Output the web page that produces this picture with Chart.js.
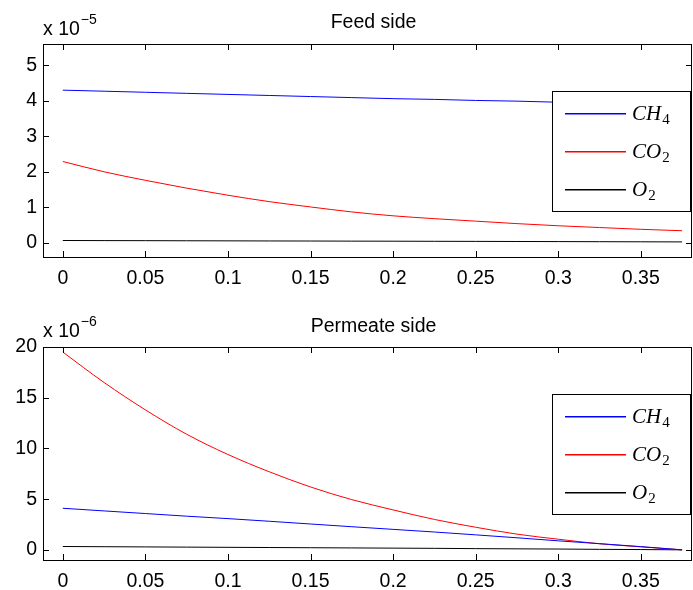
<!DOCTYPE html>
<html>
<head>
<meta charset="utf-8">
<script src="https://cdn.jsdelivr.net/npm/chart.js@4"></script>
<style>
  body { margin: 0; background: #fff; }
  canvas { position: absolute; left: 0; }
</style>
</head>
<body>
<canvas id="feedChart" width="693" height="300" style="top:0"></canvas>
<canvas id="permChart" width="693" height="290" style="top:300px"></canvas>
<script>
// position along membrane
const xPos = [0, 0.025, 0.05, 0.075, 0.1, 0.125, 0.15, 0.175, 0.2, 0.225, 0.25, 0.275, 0.3, 0.325, 0.35, 0.375];

// feed side (x 1e-5)
const feedCH4 = [4.30, 4.27, 4.24, 4.21, 4.18, 4.15, 4.12, 4.09, 4.06, 4.04, 4.01, 3.99, 3.96, 3.94, 3.91, 3.89];
const feedCO2 = [2.29, 2.00, 1.76, 1.54, 1.34, 1.16, 1.01, 0.87, 0.76, 0.68, 0.61, 0.54, 0.48, 0.43, 0.38, 0.34];
const feedO2  = [0.065, 0.062, 0.06, 0.057, 0.055, 0.052, 0.05, 0.047, 0.045, 0.042, 0.04, 0.037, 0.034, 0.031, 0.028, 0.025];

// permeate side (x 1e-6)
const permCH4 = [4.10, 3.84, 3.58, 3.32, 3.08, 2.82, 2.55, 2.28, 2.02, 1.76, 1.48, 1.19, 0.89, 0.61, 0.32, 0.0];
const permCO2 = [19.5, 16.5, 13.8, 11.4, 9.4, 7.7, 6.2, 4.95, 3.94, 3.0, 2.23, 1.55, 1.05, 0.6, 0.3, 0.0];
const permO2  = [0.33, 0.31, 0.29, 0.27, 0.25, 0.23, 0.21, 0.19, 0.17, 0.15, 0.12, 0.10, 0.08, 0.05, 0.03, 0.0];

const xTicks = [0, 0.05, 0.1, 0.15, 0.2, 0.25, 0.3, 0.35];
const feedYTicks = [0, 1, 2, 3, 4, 5];
const permYTicks = [0, 5, 10, 15, 20];

const gasLabels = ['CH_4', 'CO_2', 'O_2'];
const gasColors = ['#0000ff', '#ff0000', '#000000'];

const sansFont = '"Liberation Sans", Arial, sans-serif';
const serifFont = '"Liberation Serif", "Times New Roman", serif';

// MATLAB-ish box, inward ticks, title, exponent and legend
const matlabDecor = {
  id: 'matlabDecor',
  afterDraw(chart, args, opts) {
    const ctx = chart.ctx;
    const a = chart.chartArea;
    const xs = chart.scales.x, ys = chart.scales.y;
    ctx.save();
    ctx.strokeStyle = '#000';
    ctx.lineWidth = 1;
    ctx.strokeRect(Math.round(a.left) + 0.5, Math.round(a.top) + 0.5,
                   Math.round(a.right - a.left) - 1, Math.round(a.bottom - a.top));
    ctx.beginPath();
    xTicks.forEach(v => {
      const px = Math.round(xs.getPixelForValue(v)) + 0.5;
      ctx.moveTo(px, a.bottom); ctx.lineTo(px, a.bottom - 6);
      ctx.moveTo(px, a.top); ctx.lineTo(px, a.top + 6);
    });
    opts.yTicks.forEach(v => {
      const py = Math.round(ys.getPixelForValue(v)) + 0.5;
      ctx.moveTo(a.left, py); ctx.lineTo(a.left + 6, py);
      ctx.moveTo(a.right, py); ctx.lineTo(a.right - 6, py);
    });
    ctx.stroke();

    // title
    ctx.fillStyle = '#000';
    ctx.font = '19.5px ' + sansFont;
    ctx.textAlign = 'center';
    ctx.textBaseline = 'alphabetic';
    ctx.fillText(opts.title, (a.left + a.right) / 2 + 6, a.top - opts.titleGap);

    // exponent label
    ctx.textAlign = 'left';
    const base = 'x 10';
    ctx.fillText(base, a.left, a.top - opts.expGap);
    const w = ctx.measureText(base).width;
    ctx.font = '14px ' + sansFont;
    ctx.fillText('\u2212' + opts.exponent, a.left + w + 1, a.top - opts.expGap - 11);

    // legend box
    const bx = Math.round(a.right) - 140, by = Math.round(a.top) + 47, bw = 138, bh = 120;
    ctx.fillStyle = '#fff';
    ctx.fillRect(bx, by, bw, bh);
    ctx.strokeStyle = '#000';
    ctx.lineWidth = 1;
    ctx.strokeRect(bx + 0.5, by + 0.5, bw, bh);
    chart.data.datasets.forEach((ds, i) => {
      const ly = by + 22 + i * 38;
      ctx.fillStyle = gasColors[i];
      ctx.fillRect(bx + 13, ly, 61, 1.5);
      const parts = ds.label.split('_');
      ctx.fillStyle = '#000';
      ctx.font = 'italic 21px ' + serifFont;
      ctx.fillText(parts[0], bx + 80, ly + 7);
      const mw = ctx.measureText(parts[0]).width;
      ctx.font = '15px ' + serifFont;
      ctx.fillText(parts[1], bx + 80 + mw + 1, ly + 11);
    });
    ctx.restore();
  }
};

const fmt = v => String(+Number(v).toFixed(4));

function makeChart(id, series, yMin, yMax, yTicks, title, exponent, topPad, axisHeight, titleGap, expGap) {
  const ctx = document.getElementById(id).getContext('2d');
  return new Chart(ctx, {
    type: 'line',
    data: {
      datasets: series.map((vals, i) => ({
        label: gasLabels[i],
        data: xPos.map((x, j) => ({ x: x, y: vals[j] })),
        borderColor: gasColors[i],
        borderWidth: 1,
        pointRadius: 0,
        fill: false,
        cubicInterpolationMode: 'monotone'
      }))
    },
    options: {
      responsive: false,
      animation: false,
      devicePixelRatio: 1,
      layout: { padding: { top: topPad, right: 1, left: 0, bottom: 0 } },
      plugins: {
        legend: { display: false },
        tooltip: { enabled: false },
        matlabDecor: { title: title, exponent: exponent, yTicks: yTicks, titleGap: titleGap, expGap: expGap }
      },
      scales: {
        x: {
          type: 'linear',
          min: -0.012,
          max: 0.381,
          grid: { display: false, drawTicks: false },
          border: { display: false },
          ticks: { color: '#000', font: { size: 19.5, family: sansFont }, padding: 10, maxRotation: 0, callback: fmt },
          afterBuildTicks: s => { s.ticks = xTicks.map(v => ({ value: v })); },
          afterFit: s => { s.height = axisHeight; }
        },
        y: {
          type: 'linear',
          min: yMin,
          max: yMax,
          grid: { display: false, drawTicks: false },
          border: { display: false },
          ticks: { color: '#000', font: { size: 19.5, family: sansFont }, padding: 6, callback: fmt },
          afterBuildTicks: s => { s.ticks = yTicks.map(v => ({ value: v })); },
          afterFit: s => { s.width = 43; }
        }
      }
    },
    plugins: [matlabDecor]
  });
}

makeChart('feedChart', [feedCH4, feedCO2, feedO2], -0.4, 5.6, feedYTicks, 'Feed side', '5', 44, 43, 16, 9);
makeChart('permChart', [permCH4, permCO2, permO2], -1, 20, permYTicks, 'Permeate side', '6', 47, 30, 15, 10);
</script>
</body>
</html>
